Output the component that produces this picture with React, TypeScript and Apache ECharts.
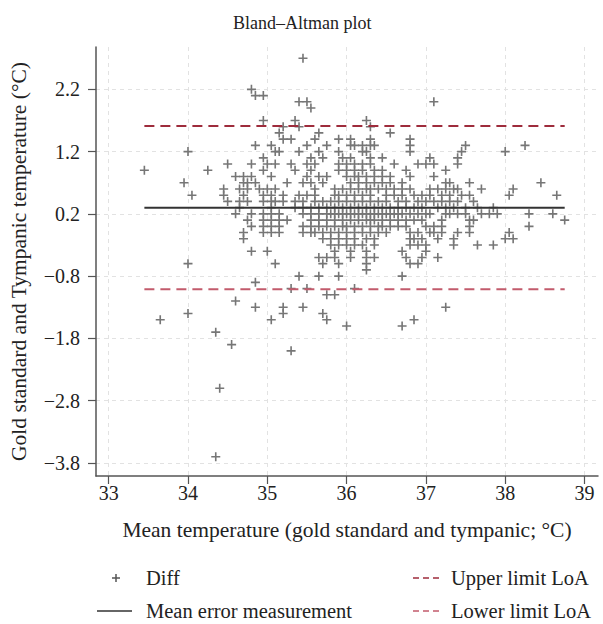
import React, { useEffect, useRef } from 'react';
import * as echarts from 'echarts';

const titleText = 'Bland–Altman plot';
const xAxisName = 'Mean temperature (gold standard and tympanic; °C)';
const yAxisName = 'Gold standard and Tympanic temperature (°C)';
const xTicks = [33, 34, 35, 36, 37, 38, 39];
const yTicks = [-3.8, -2.8, -1.8, -0.8, 0.2, 1.2, 2.2];
const xRange = [32.84, 39.17];
const yRange = [-4.01, 2.88];
const meanDiff = 0.3;
const upperLoA = 1.61;
const lowerLoA = -1.01;
const seriesNames = ['Diff', 'Mean error measurement', 'Upper limit LoA', 'Lower limit LoA'];

// each row: [difference, list of mean temperatures]
const diffRows: [number, number[]][] = [
  [2.7, [35.45]],
  [2.2, [34.8]],
  [2.1, [34.85, 34.95]],
  [2.0, [35.4, 35.5, 37.1]],
  [1.9, [35.55]],
  [1.7, [34.95, 35.35, 36.25]],
  [1.6, [35.2, 35.4, 36.3]],
  [1.5, [35.15, 35.65, 36.55]],
  [1.4, [35.2, 35.3, 35.6, 35.9, 36.05, 36.3, 36.8]],
  [1.3, [34.85, 35.05, 35.5, 35.75, 36.05, 36.1, 36.2, 36.3, 36.35, 36.8, 37.5, 38.25]],
  [1.2, [34.0, 35.1, 35.15, 35.4, 35.65, 35.9, 36.2, 36.25, 36.8, 37.45, 38.0]],
  [1.1, [34.95, 35.55, 35.7, 35.95, 36.05, 36.3, 36.45, 37.05, 37.4]],
  [1.0, [34.5, 34.8, 35.0, 35.1, 35.3, 35.5, 35.6, 35.9, 36.0, 36.1, 36.2, 36.3, 36.6, 36.9, 37.0, 37.1, 37.4]],
  [0.9, [33.45, 34.25, 34.95, 35.35, 35.55, 35.9, 36.0, 36.1, 36.2, 36.35, 36.45, 36.75, 37.25]],
  [0.8, [34.6, 34.7, 34.8, 35.05, 35.5, 35.65, 35.75, 36.0, 36.1, 36.15, 36.25, 36.35, 36.45, 36.55, 36.8, 37.1]],
  [0.7, [33.95, 34.7, 34.75, 34.85, 35.25, 35.45, 35.55, 35.7, 36.05, 36.15, 36.25, 36.35, 36.45, 36.55, 36.7, 37.25, 37.3, 37.55, 38.45]],
  [0.6, [34.45, 34.65, 34.75, 34.9, 35.0, 35.1, 35.6, 35.85, 35.95, 36.05, 36.15, 36.25, 36.3, 36.4, 36.5, 36.6, 36.7, 36.8, 37.05, 37.15, 37.25, 37.35, 37.4, 37.7, 38.1]],
  [0.5, [34.05, 34.45, 34.7, 34.95, 35.05, 35.2, 35.4, 35.5, 35.6, 35.85, 35.9, 36.0, 36.1, 36.2, 36.3, 36.5, 36.6, 36.7, 36.85, 36.95, 37.05, 37.2, 37.3, 37.45, 37.55, 38.05, 38.65]],
  [0.4, [34.5, 34.65, 34.75, 34.95, 35.05, 35.1, 35.2, 35.35, 35.45, 35.6, 35.7, 35.8, 35.9, 36.0, 36.1, 36.2, 36.3, 36.4, 36.5, 36.65, 36.75, 36.9, 37.0, 37.1, 37.2, 37.3, 37.4, 37.6]],
  [0.3, [34.65, 35.05, 35.35, 35.45, 35.55, 35.65, 35.75, 35.85, 35.95, 36.05, 36.15, 36.25, 36.35, 36.45, 36.55, 36.65, 36.75, 36.85, 36.95, 37.15, 37.25, 37.35, 37.5, 37.65, 37.85]],
  [0.2, [34.6, 34.8, 34.95, 35.05, 35.15, 35.45, 35.55, 35.65, 35.75, 35.8, 35.85, 35.9, 35.95, 36.0, 36.05, 36.1, 36.15, 36.2, 36.25, 36.3, 36.35, 36.4, 36.45, 36.5, 36.55, 36.6, 36.65, 36.7, 36.8, 36.9, 37.0, 37.05, 37.25, 37.3, 37.4, 37.5, 37.7, 37.8, 37.9, 38.3, 38.6]],
  [0.1, [34.75, 34.95, 35.05, 35.15, 35.25, 35.55, 35.65, 35.75, 35.85, 35.95, 36.05, 36.15, 36.25, 36.3, 36.35, 36.45, 36.55, 36.65, 36.75, 36.85, 36.95, 37.2, 37.55, 37.6, 38.75]],
  [0.0, [34.8, 34.95, 35.05, 35.15, 35.45, 35.55, 35.65, 35.75, 35.85, 35.95, 36.0, 36.1, 36.2, 36.3, 36.4, 36.45, 36.55, 36.65, 36.75, 37.0, 37.1, 37.2, 37.55, 38.3]],
  [-0.1, [34.7, 34.95, 35.05, 35.15, 35.45, 35.55, 35.6, 35.7, 35.8, 35.9, 36.0, 36.1, 36.2, 36.3, 36.4, 36.5, 36.8, 36.9, 37.05, 37.1, 37.2, 37.4, 37.55, 38.05]],
  [-0.2, [34.7, 35.7, 35.8, 35.9, 36.0, 36.1, 36.25, 36.35, 36.8, 36.85, 36.95, 37.15, 37.35, 38.0, 38.1]],
  [-0.3, [35.8, 35.9, 36.0, 36.1, 36.2, 36.35, 36.8, 36.9, 37.0, 37.35, 37.65, 37.85]],
  [-0.4, [34.8, 35.0, 35.85, 36.05, 36.25, 36.7, 37.0]],
  [-0.5, [35.65, 35.75, 35.85, 36.05, 36.25, 36.35, 36.75, 36.95, 37.15]],
  [-0.6, [34.0, 35.1, 35.7, 35.9, 36.25, 36.8, 36.9]],
  [-0.7, [36.25]],
  [-0.8, [35.4, 35.65, 35.9, 36.7]],
  [-0.9, [34.85]],
  [-1.0, [35.3, 35.5, 36.1]],
  [-1.1, [35.75, 35.85]],
  [-1.2, [34.6]],
  [-1.3, [34.85, 35.2, 35.45, 37.25]],
  [-1.4, [34.0, 35.2, 35.7]],
  [-1.5, [33.65, 35.05, 35.75, 36.85]],
  [-1.6, [36.0, 36.7]],
  [-1.7, [34.35]],
  [-1.9, [34.55]],
  [-2.0, [35.3]],
  [-2.6, [34.4]],
  [-3.7, [34.35]],
];

const PLUS = 'path://M4.1 0H5.9V4.1H10V5.9H5.9V10H4.1V5.9H0V4.1H4.1Z';
const FONT = '"Liberation Serif", "DejaVu Serif", serif';
const SCATTER_COLOR = '#767676';
const MEAN_COLOR = '#333333';
const UPPER_COLOR = '#9e2c3c';
const LOWER_COLOR = '#c25b6c';

function fmt(v: number): string {
  const s = v.toFixed(1);
  return v < 0 ? '\u2212' + s.slice(1) : s;
}

export default function App() {
  const ref = useRef<HTMLDivElement>(null);
  useEffect(() => {
    if (!ref.current) return;
    const chart = echarts.init(ref.current, undefined, { renderer: 'svg' });
    const points = diffRows.flatMap(([d, xs]) => xs.map((x) => [x, d]));
    const allX = points.map((p) => p[0]);
    const x0 = Math.min(...allX);
    const x1 = Math.max(...allX);
    const gridStyle = { color: '#e2e2e2', width: 1, type: [4, 4] as any };
    const legendText = (text: string, x: number, y: number) => ({
      type: 'text',
      x,
      y,
      style: { text, fontFamily: FONT, fontSize: 20.5, fill: '#222', verticalAlign: 'middle', align: 'left' },
    });
    const row1 = 578;
    const row2 = 611;
    chart.setOption({
      animation: false,
      backgroundColor: '#ffffff',
      title: {
        text: titleText,
        left: 228,
        top: 9,
        textStyle: { fontFamily: FONT, fontSize: 18, fontWeight: 'normal', color: '#222' },
      },
      grid: { left: 96, right: 5, top: 47, bottom: 148, containLabel: false },
      xAxis: {
        type: 'value',
        min: xRange[0],
        max: xRange[1],
        name: xAxisName,
        nameLocation: 'middle',
        nameGap: 43,
        nameTextStyle: { fontFamily: FONT, fontSize: 21.5, color: '#222' },
        axisLine: { show: true, onZero: false, lineStyle: { color: '#555', width: 1.5 } },
        axisTick: { show: true, length: 8, customValues: xTicks, lineStyle: { color: '#555', width: 1.2 } },
        axisLabel: {
          customValues: xTicks,
          margin: 7,
          fontFamily: FONT,
          fontSize: 20,
          color: '#222',
          formatter: (v: number) => String(Math.round(v)),
        },
        splitLine: { show: true, lineStyle: gridStyle },
      },
      yAxis: {
        type: 'value',
        min: yRange[0],
        max: yRange[1],
        name: yAxisName,
        nameLocation: 'middle',
        nameGap: 66,
        nameTextStyle: { fontFamily: FONT, fontSize: 21.5, color: '#222' },
        axisLine: { show: true, onZero: false, lineStyle: { color: '#555', width: 1.5 } },
        axisTick: { show: true, length: 8, customValues: yTicks, lineStyle: { color: '#555', width: 1.2 } },
        axisLabel: {
          customValues: yTicks,
          margin: 16,
          fontFamily: FONT,
          fontSize: 20,
          color: '#222',
          formatter: (v: number) => fmt(v),
        },
        splitLine: { show: true, lineStyle: gridStyle },
      },
      graphic: [
        { type: 'line', shape: { x1: 112, y1: row1, x2: 120, y2: row1 }, style: { stroke: '#555', lineWidth: 1.5 } },
        { type: 'line', shape: { x1: 116, y1: row1 - 4, x2: 116, y2: row1 + 4 }, style: { stroke: '#555', lineWidth: 1.5 } },
        legendText(seriesNames[0], 146, row1),
        { type: 'line', shape: { x1: 97, y1: row2, x2: 132, y2: row2 }, style: { stroke: MEAN_COLOR, lineWidth: 1.5 } },
        legendText(seriesNames[1], 146, row2),
        {
          type: 'line',
          shape: { x1: 413, y1: row1, x2: 440, y2: row1 },
          style: { stroke: UPPER_COLOR, lineWidth: 1.5, lineDash: [6, 4] },
        },
        legendText(seriesNames[2], 451, row1),
        {
          type: 'line',
          shape: { x1: 413, y1: row2, x2: 440, y2: row2 },
          style: { stroke: LOWER_COLOR, lineWidth: 1.5, lineDash: [6, 4] },
        },
        legendText(seriesNames[3], 451, row2),
      ],
      series: [
        {
          name: seriesNames[0],
          type: 'scatter',
          symbol: PLUS,
          symbolSize: 9,
          itemStyle: { color: SCATTER_COLOR, opacity: 1 },
          data: points,
          z: 3,
        },
        {
          name: seriesNames[1],
          type: 'line',
          symbol: 'none',
          lineStyle: { color: MEAN_COLOR, width: 2 },
          itemStyle: { color: MEAN_COLOR },
          data: [[x0, meanDiff], [x1, meanDiff]],
          z: 4,
        },
        {
          name: seriesNames[2],
          type: 'line',
          symbol: 'none',
          lineStyle: { color: UPPER_COLOR, width: 2, type: [10, 6] },
          itemStyle: { color: UPPER_COLOR },
          data: [[x0, upperLoA], [x1, upperLoA]],
          z: 4,
        },
        {
          name: seriesNames[3],
          type: 'line',
          symbol: 'none',
          lineStyle: { color: LOWER_COLOR, width: 2, type: [10, 6] },
          itemStyle: { color: LOWER_COLOR },
          data: [[x0, lowerLoA], [x1, lowerLoA]],
          z: 4,
        },
      ],
    });
    return () => chart.dispose();
  }, []);
  return (
    <div
      ref={ref}
      style={{ position: 'fixed', left: 0, top: 0, width: 603, height: 624, background: '#fff' }}
    />
  );
}
